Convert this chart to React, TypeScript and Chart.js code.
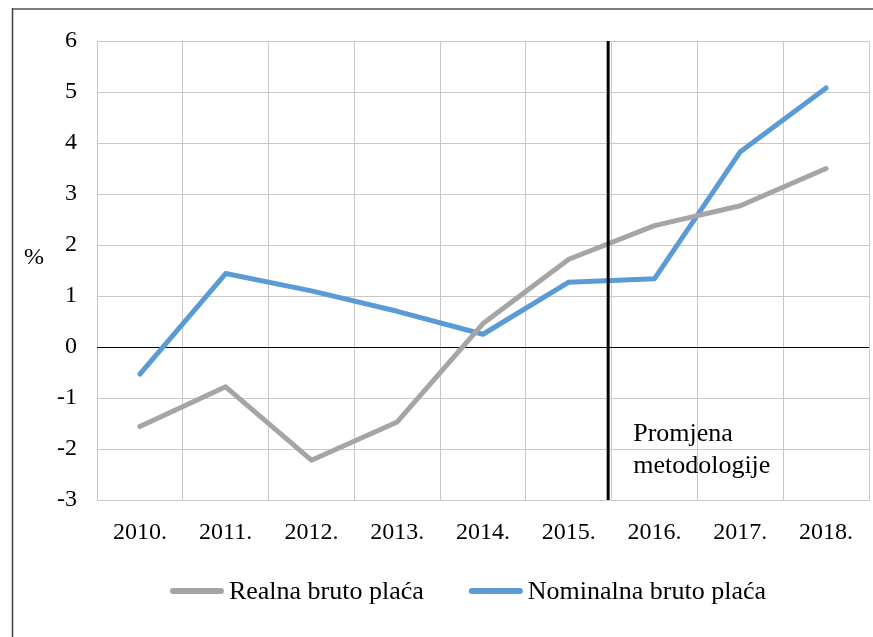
import React, { useEffect, useRef } from 'react';
import { Chart, registerables } from 'chart.js';

Chart.register(...registerables);

const years = ['2010.', '2011.', '2012.', '2013.', '2014.', '2015.', '2016.', '2017.', '2018.'];
const realnaBrutoPlaca = [-1.56, -0.78, -2.22, -1.47, 0.46, 1.72, 2.38, 2.77, 3.5];
const nominalnaBrutoPlaca = [-0.53, 1.44, 1.1, 0.7, 0.25, 1.27, 1.34, 3.83, 5.08];
const seriesNames = ['Realna bruto plaća', 'Nominalna bruto plaća'];
const seriesColors = ['#A5A5A5', '#5B9BD5'];
const yMin = -3;
const yMax = 6;
const yStep = 1;
const yAxisTitle = '%';
const annotationLines = ['Promjena', 'metodologije'];
const breakAfterIndex = 5; // methodology change between 2015. and 2016.

const FONT = '"Liberation Serif", "Times New Roman", serif';

const decorPlugin = {
  id: 'decor',
  afterDatasetsDraw(chart: any) {
    const { ctx, chartArea, scales } = chart;
    const xs = scales.x;
    const ys = scales.y;
    const bx = (xs.getPixelForValue(breakAfterIndex) + xs.getPixelForValue(breakAfterIndex + 1)) / 2 - 3.5;
    ctx.save();
    ctx.strokeStyle = '#000';
    ctx.lineWidth = 3;
    ctx.beginPath();
    ctx.moveTo(bx, chartArea.top);
    ctx.lineTo(bx, chartArea.bottom);
    ctx.stroke();
    ctx.fillStyle = '#000';
    ctx.font = `26px ${FONT}`;
    ctx.textAlign = 'left';
    ctx.textBaseline = 'alphabetic';
    ctx.fillText(annotationLines[0], bx + 25, ys.getPixelForValue(-1.85));
    ctx.fillText(annotationLines[1], bx + 25, ys.getPixelForValue(-2.48));
    ctx.restore();
  },
  afterDraw(chart: any) {
    const { ctx, chartArea, scales, width, height } = chart;
    const ys = scales.y;
    ctx.save();
    // outer frame
    ctx.strokeStyle = '#7f7f7f';
    ctx.lineWidth = 2;
    ctx.beginPath();
    ctx.moveTo(12, 9);
    ctx.lineTo(width, 9);
    ctx.stroke();
    ctx.strokeStyle = '#404040';
    ctx.lineWidth = 1.5;
    ctx.beginPath();
    ctx.moveTo(12.5, 8);
    ctx.lineTo(12.5, height);
    ctx.stroke();
    // y title
    ctx.fillStyle = '#000';
    ctx.font = `24px ${FONT}`;
    ctx.textAlign = 'center';
    ctx.textBaseline = 'middle';
    ctx.fillText(yAxisTitle, 34, ys.getPixelForValue(1.75));
    // legend
    ctx.font = `26px ${FONT}`;
    const sample = 54;
    const gap = 5;
    const spacing = 45;
    const widths = seriesNames.map((n) => ctx.measureText(n).width);
    const total = sample * 2 + gap * 2 + spacing + widths[0] + widths[1];
    let x = (chartArea.left + chartArea.right) / 2 - 15 - total / 2;
    const y = chartArea.bottom + 91;
    ctx.textAlign = 'left';
    ctx.textBaseline = 'middle';
    seriesNames.forEach((name, i) => {
      ctx.strokeStyle = chart.data.datasets[i].borderColor;
      ctx.lineWidth = 6;
      ctx.lineCap = 'round';
      ctx.beginPath();
      ctx.moveTo(x + 3, y);
      ctx.lineTo(x + sample - 3, y);
      ctx.stroke();
      x += sample + gap;
      ctx.fillStyle = '#000';
      ctx.fillText(name, x, y + 1);
      x += widths[i] + spacing;
    });
    ctx.restore();
  },
};

export default function App() {
  const canvasRef = useRef<HTMLCanvasElement | null>(null);

  useEffect(() => {
    document.body.style.margin = '0';
    const canvas = canvasRef.current;
    if (!canvas) return;
    const chart = new Chart(canvas, {
      type: 'line',
      data: {
        labels: years,
        datasets: [
          {
            label: seriesNames[0],
            data: realnaBrutoPlaca,
            borderColor: seriesColors[0],
            backgroundColor: seriesColors[0],
            borderWidth: 5,
            pointRadius: 0,
            borderCapStyle: 'round',
            borderJoinStyle: 'round',
            tension: 0,
          },
          {
            label: seriesNames[1],
            data: nominalnaBrutoPlaca,
            borderColor: seriesColors[1],
            backgroundColor: seriesColors[1],
            borderWidth: 5,
            pointRadius: 0,
            borderCapStyle: 'round',
            borderJoinStyle: 'round',
            tension: 0,
          },
        ],
      },
      options: {
        animation: false,
        responsive: false,
        maintainAspectRatio: false,
        layout: { padding: { top: 41, right: 4, left: 0, bottom: 0 } },
        plugins: {
          legend: { display: false },
          tooltip: { enabled: false },
        },
        scales: {
          x: {
            type: 'category',
            offset: true,
            grid: { offset: true, color: '#c9c9c9', lineWidth: 1, drawTicks: false },
            border: { color: '#c9c9c9' },
            ticks: {
              font: { family: FONT, size: 24 },
              color: '#000',
              padding: 18,
              maxRotation: 0,
              autoSkip: false,
            },
            afterFit: (s: any) => {
              s.height = 137;
            },
          },
          y: {
            min: yMin,
            max: yMax,
            ticks: {
              stepSize: yStep,
              font: { family: FONT, size: 24 },
              color: '#000',
              padding: 20,
            },
            grid: {
              color: (c: any) => (c.tick && c.tick.value === 0 ? '#000' : '#c9c9c9'),
              lineWidth: 1,
              drawTicks: false,
            },
            border: { display: false },
            afterFit: (s: any) => {
              s.width = 97;
            },
          },
        },
      },
      plugins: [decorPlugin],
    } as any);
    return () => chart.destroy();
  }, []);

  return (
    <div style={{ width: 873, height: 637, background: '#fff' }}>
      <canvas ref={canvasRef} width={873} height={637} style={{ display: 'block' }} />
    </div>
  );
}
